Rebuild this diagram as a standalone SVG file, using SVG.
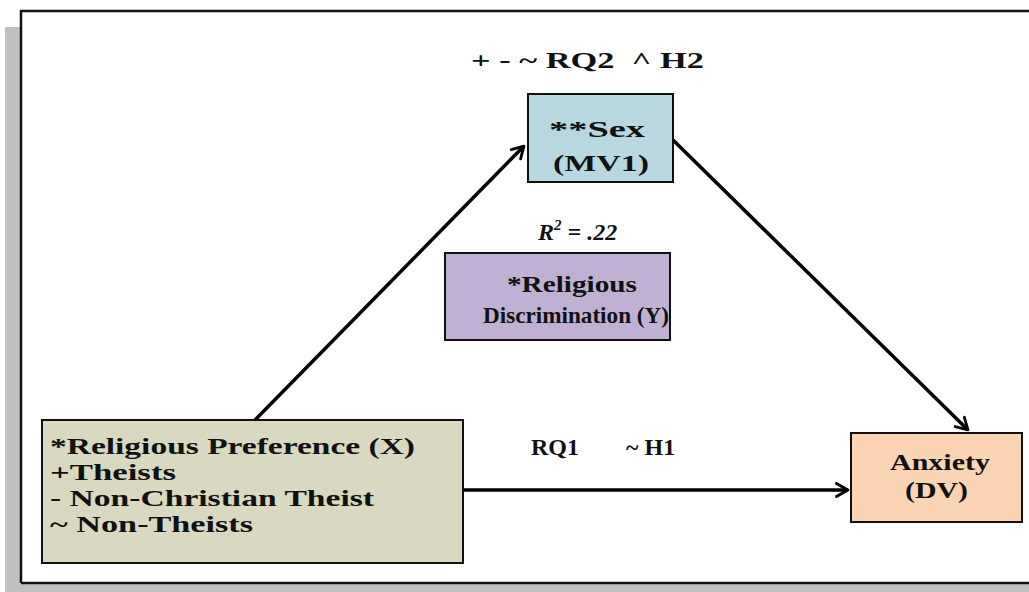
<svg xmlns="http://www.w3.org/2000/svg" width="1029" height="592" viewBox="0 0 1029 592">
<defs>
<style>
.t{font-family:"Liberation Serif","Times New Roman",serif;font-weight:bold;font-size:24px;fill:#111}
.box{stroke:#111;stroke-width:2}
.edge{stroke:#000;stroke-width:3.5;fill:none;marker-end:url(#ah)}
</style>
<marker id="ah" viewBox="0 0 12 12" refX="10" refY="6" markerWidth="7" markerHeight="7" markerUnits="userSpaceOnUse" orient="auto" overflow="visible">
<path d="M-4,-2 L10,6 L-4,14" fill="none" stroke="#000" stroke-width="3.5" stroke-linecap="round" stroke-linejoin="round" transform="scale(1.4) translate(-3,-1.7)"/>
</marker>
</defs>
<rect width="1029" height="592" fill="#fff"/>
<g id="frame">
<rect x="5" y="27" width="16" height="565" fill="#c0c0c0"/>
<rect x="5" y="584" width="1024" height="8" fill="#c0c0c0"/>
<path d="M21,583 L21,11 L1035,11 M21,583 L1035,583" stroke="#111" stroke-width="2.5" fill="none"/>
</g>
<g id="connectors">
<line class="edge" x1="255" y1="420" x2="524" y2="146"/>
<line class="edge" x1="673" y1="140" x2="968" y2="430"/>
<line class="edge" x1="463" y1="490" x2="848" y2="490"/>
</g>
<g id="labels">
<text class="t" x="471" y="68" font-size="25" textLength="233" lengthAdjust="spacingAndGlyphs">+ - ~ RQ2 &#160;^ H2</text>
<text class="t" x="538" y="240" font-style="italic"><tspan>R</tspan><tspan font-size="15" dy="-10">2</tspan><tspan dy="10"> = .22</tspan></text>
<text class="t" x="531" y="455">RQ1</text>
<text class="t" x="626" y="455">~ H1</text>
</g>
<g id="node-sex">
<rect class="box" x="528" y="94" width="145" height="88" fill="#b7d8e0"/>
<text class="t" x="549" y="137" textLength="96" lengthAdjust="spacingAndGlyphs">**Sex</text>
<text class="t" x="553" y="171" textLength="96" lengthAdjust="spacingAndGlyphs">(MV1)</text>
</g>
<g id="node-disc">
<rect class="box" x="445" y="253" width="225" height="87" fill="#c0b1d4"/>
<text class="t" x="572" y="292" text-anchor="middle" textLength="130" lengthAdjust="spacingAndGlyphs">*Religious</text>
<text class="t" x="576" y="323" text-anchor="middle" textLength="186" lengthAdjust="spacingAndGlyphs">Discrimination (Y)</text>
</g>
<g id="node-pref">
<rect class="box" x="42" y="420" width="421" height="143" fill="#d8d9c0"/>
<text class="t" x="50" y="454" textLength="365" lengthAdjust="spacingAndGlyphs">*Religious Preference (X)</text>
<text class="t" x="50" y="480" textLength="126" lengthAdjust="spacingAndGlyphs">+Theists</text>
<text class="t" x="50" y="506" textLength="324" lengthAdjust="spacingAndGlyphs">- Non-Christian Theist</text>
<text class="t" x="50" y="532" textLength="203" lengthAdjust="spacingAndGlyphs">~ Non-Theists</text>
</g>
<g id="node-anx">
<rect class="box" x="851" y="433" width="171" height="89" fill="#fbd4b4"/>
<text class="t" x="890" y="470" textLength="100" lengthAdjust="spacingAndGlyphs">Anxiety</text>
<text class="t" x="905" y="498" textLength="63" lengthAdjust="spacingAndGlyphs">(DV)</text>
</g>
</svg>
